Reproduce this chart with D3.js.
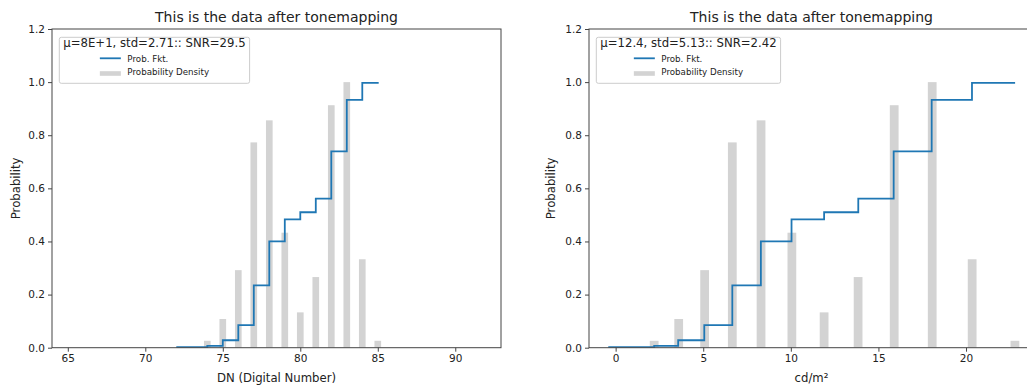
<!DOCTYPE html>
<html>
<head>
<meta charset="utf-8">
<script src="https://cdn.jsdelivr.net/npm/d3@7"></script>
<style>
  body { margin: 0; background: #fff; overflow: hidden; }
  svg { font-family: "DejaVu Sans", sans-serif; display: block; }
</style>
</head>
<body>
<svg id="chart" width="1027" height="389"></svg>
<script>
// bar values
const dnBins = [74, 75, 76, 77, 78, 79, 80, 81, 82, 83, 84, 85];
const cdBins = [2.2, 3.6, 5.08, 6.66, 8.3, 10.06, 11.9, 13.84, 15.9, 18.07, 20.35, 22.79];
const density = [0.026, 0.108, 0.292, 0.773, 0.856, 0.433, 0.133, 0.266, 0.913, 1.0, 0.333, 0.026];

// step line (cumulative probability)
const dnSteps = [72, 73, 74, 75, 76, 77, 78, 79, 80, 81, 82, 83, 84, 85];
const cdSteps = [-0.42, 0.9, 2.2, 3.57, 5.06, 6.66, 8.29, 10.04, 11.9, 13.85, 15.87, 18.04, 20.34, 22.75];
const cdf = [0.002, 0.002, 0.007, 0.028, 0.085, 0.235, 0.40, 0.483, 0.51, 0.561, 0.739, 0.933, 0.997, 1.0];

const yTicks = [0, 0.2, 0.4, 0.6, 0.8, 1.0, 1.2];
const dnTicks = [65, 70, 75, 80, 85, 90];
const cdTicks = [0, 5, 10, 15, 20];

const svg = d3.select("#chart");
const plotTop = 29, plotBottom = 347.7;

function drawPanel(opt) {
    const g = svg.append("g");
    const x = d3.scaleLinear().domain(opt.xDomain).range([opt.left, opt.right]);
    const y = d3.scaleLinear().domain([0, 1.2]).range([plotBottom, plotTop]);

    const clip = "clip" + opt.id;
    svg.append("clipPath").attr("id", clip)
        .append("rect").attr("x", opt.left).attr("y", plotTop)
        .attr("width", opt.right - opt.left).attr("height", plotBottom - plotTop);

    const plot = g.append("g").attr("clip-path", `url(#${clip})`);

    plot.selectAll("rect.bar")
        .data(opt.bins.map((b, i) => ({ b, v: density[i] })))
        .enter().append("rect")
        .attr("class", "bar")
        .attr("x", d => x(d.b - opt.barW / 2))
        .attr("width", d => x(d.b + opt.barW / 2) - x(d.b - opt.barW / 2))
        .attr("y", d => y(d.v))
        .attr("height", d => y(0) - y(d.v))
        .attr("fill", "#d3d3d3");

    const line = d3.line()
        .x(d => x(d[0]))
        .y(d => y(d[1]))
        .curve(d3.curveStepAfter);

    plot.append("path")
        .datum(opt.steps.map((s, i) => [s, cdf[i]]))
        .attr("d", line)
        .attr("fill", "none")
        .attr("stroke", "#1f77b4")
        .attr("stroke-width", 1.8);

    // axes
    const xAxis = g.append("g")
        .attr("transform", `translate(0,${plotBottom})`)
        .call(d3.axisBottom(x).tickValues(opt.xTicks).tickFormat(d3.format("d")).tickSize(4).tickPadding(3));
    const yAxis = g.append("g")
        .attr("transform", `translate(${opt.left},0)`)
        .call(d3.axisLeft(y).tickValues(yTicks).tickFormat(d3.format(".1f")).tickSize(4).tickPadding(3));
    [xAxis, yAxis].forEach(a => {
        a.select(".domain").remove();
        a.selectAll(".tick line").attr("stroke", "#444");
        a.selectAll(".tick text").attr("fill", "#222")
            .style("font-family", "DejaVu Sans").style("font-size", "10.5px");
    });

    // spines
    g.append("rect")
        .attr("x", opt.left).attr("y", plotTop)
        .attr("width", opt.right - opt.left).attr("height", plotBottom - plotTop)
        .attr("fill", "none").attr("stroke", "#444").attr("stroke-width", 1);

    // labels
    const cx = (opt.left + opt.right) / 2;
    g.append("text")
        .attr("x", cx)
        .attr("y", 21.7)
        .attr("text-anchor", "middle")
        .attr("font-size", "14px").attr("fill", "#222")
        .text("This is the data after tonemapping");

    g.append("text")
        .attr("x", cx)
        .attr("y", 381.5)
        .attr("text-anchor", "middle")
        .attr("font-size", "11.7px").attr("fill", "#222")
        .text(opt.xLabel);

    g.append("text")
        .attr("transform", `translate(${opt.yLabelX},${(plotTop + plotBottom) / 2}) rotate(-90)`)
        .attr("text-anchor", "middle")
        .attr("font-size", "11.7px").attr("fill", "#222")
        .text("Probability");

    // legend
    const lx = opt.left + 7.3, ly = 37.3;
    const leg = g.append("g");
    const box = leg.append("rect");
    const title = leg.append("text")
        .attr("y", 46.7)
        .attr("text-anchor", "middle")
        .attr("font-size", "11.7px").attr("fill", "#222")
        .text(opt.legendTitle);
    const tw = title.node().getComputedTextLength();
    const bw = tw + 8;
    title.attr("x", lx + bw / 2);
    box.attr("x", lx).attr("y", ly).attr("width", bw).attr("height", 46)
        .attr("rx", 2).attr("fill", "#fff").attr("fill-opacity", 0.8)
        .attr("stroke", "#ccc").attr("stroke-width", 1);

    const entries = ["Prob. Fkt.", "Probability Density"];
    const texts = entries.map((t, i) => leg.append("text")
        .attr("y", i === 0 ? 61.5 : 75.2)
        .attr("font-size", "8.7px").attr("fill", "#222")
        .text(t));
    const maxW = d3.max(texts, t => t.node().getComputedTextLength());
    const blockW = 21 + 6.5 + maxW;
    const bx = lx + (bw - blockW) / 2;
    texts.forEach(t => t.attr("x", bx + 27.5));
    leg.append("line")
        .attr("x1", bx).attr("x2", bx + 21)
        .attr("y1", 58.3).attr("y2", 58.3)
        .attr("stroke", "#1f77b4").attr("stroke-width", 1.8);
    leg.append("rect")
        .attr("x", bx).attr("y", 71.2).attr("width", 21).attr("height", 4.6)
        .attr("fill", "#d3d3d3");
}

drawPanel({
    id: "L", left: 52, right: 501, xDomain: [63.98, 92.95],
    bins: dnBins, steps: dnSteps, barW: 0.43, xTicks: dnTicks,
    xLabel: "DN (Digital Number)", yLabelX: 20,
    legendTitle: "μ=8E+1, std=2.71:: SNR=29.5"
});

drawPanel({
    id: "R", left: 589, right: 1034, xDomain: [-1.52, 23.88],
    bins: cdBins, steps: cdSteps, barW: 0.5, xTicks: cdTicks,
    xLabel: "cd/m²", yLabelX: 555,
    legendTitle: "μ=12.4, std=5.13:: SNR=2.42"
});
</script>
</body>
</html>
